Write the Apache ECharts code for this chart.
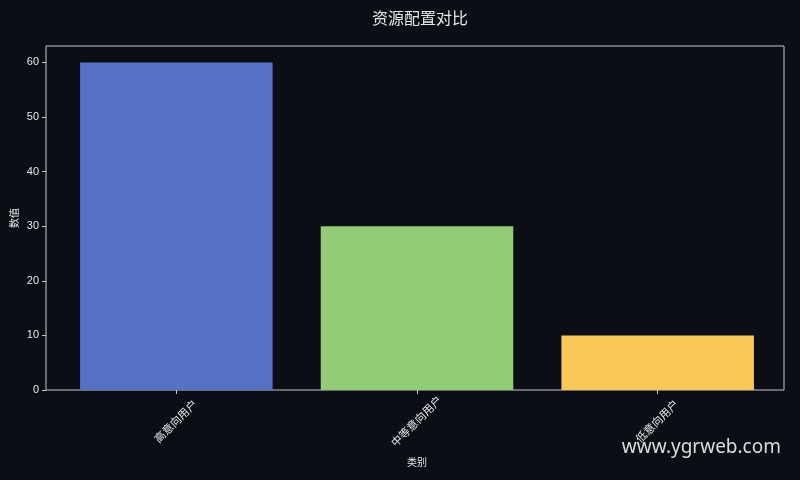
<!DOCTYPE html>
<html>
<head>
<meta charset="utf-8">
<script src="https://cdn.jsdelivr.net/npm/echarts@6/dist/echarts.min.js"></script>
<style>
  html, body { margin: 0; padding: 0; background: #0b0e14; }
  #chart { width: 800px; height: 480px; }
</style>
</head>
<body>
<div id="chart"></div>
<script>
var categories = ['高意向用户', '中等意向用户', '低意向用户'];
var values = [60, 30, 10];
var barColors = ['#5571c8', '#93cc76', '#fac858'];
var yName = '数值';
var xName = '类别';

var textColor = '#e6e6e6';
var lineColor = '#c8c8c8';
var font = '"Liberation Sans", "Noto Sans CJK SC", sans-serif';

var myChart = echarts.init(document.getElementById('chart'));

var option = {
    backgroundColor: '#0b0e14',
    animation: false,
    title: {
        text: '资源配置对比',
        left: 415,
        textAlign: 'center',
        top: 7,
        textStyle: { color: textColor, fontSize: 16, fontWeight: 'normal', fontFamily: font }
    },
    grid: [
        // frame + y axis
        { left: 46, right: 16, top: 46, bottom: 90, show: true, borderColor: lineColor, borderWidth: 1, outerBoundsMode: 'none', containLabel: false },
        // bars, inset like matplotlib x margins
        { left: 56, right: 22, top: 46, bottom: 90, outerBoundsMode: 'none', containLabel: false }
    ],
    xAxis: [
        { gridIndex: 0, type: 'value', show: false, min: 0, max: 1 },
        {
            gridIndex: 1,
            type: 'category',
            data: categories,
            name: xName,
            nameLocation: 'middle',
            nameGap: 68,
            nameTextStyle: { color: textColor, fontSize: 10, fontFamily: font },
            axisLine: { show: false },
            axisTick: { show: true, alignWithLabel: true, length: 4, lineStyle: { color: lineColor } },
            axisLabel: {
                color: textColor, fontSize: 11, rotate: 45, margin: 32, interval: 0,
                align: 'center', verticalAlign: 'middle', fontFamily: font
            },
            splitLine: { show: false }
        }
    ],
    yAxis: [
        {
            gridIndex: 0,
            type: 'value',
            min: 0,
            max: 63,
            interval: 10,
            axisLine: { show: false },
            axisTick: { show: true, length: 4, lineStyle: { color: lineColor } },
            axisLabel: { color: textColor, fontSize: 11, margin: 7, showMaxLabel: false, fontFamily: font },
            splitLine: { show: false }
        },
        { gridIndex: 1, type: 'value', min: 0, max: 63, show: false }
    ],
    series: [{
        type: 'bar',
        xAxisIndex: 1,
        yAxisIndex: 1,
        barWidth: '80%',
        data: values.map(function (v, i) {
            return { value: v, itemStyle: { color: barColors[i] } };
        })
    }],
    graphic: [{
        // y axis title
        type: 'text',
        x: 15,
        y: 218,
        rotation: Math.PI / 2,
        style: {
            text: yName,
            fill: textColor,
            font: '10px ' + font,
            align: 'center',
            verticalAlign: 'middle'
        }
    }, {
        type: 'text',
        right: 19,
        top: 438,
        style: {
            text: 'www.ygrweb.com',
            fill: '#dcdcdc',
            font: '19px "Noto Sans", "Open Sans", sans-serif'
        }
    }]
};

myChart.setOption(option);
</script>
</body>
</html>
